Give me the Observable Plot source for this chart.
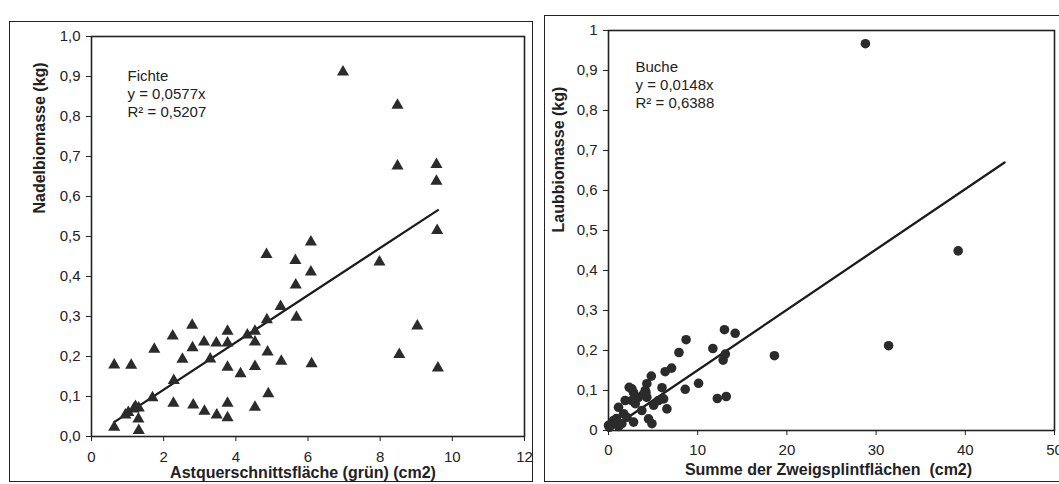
<!DOCTYPE html>
<html>
<head>
<meta charset="utf-8">
<script src="https://cdn.jsdelivr.net/npm/d3@7"></script>
<script src="https://cdn.jsdelivr.net/npm/@observablehq/plot@0.6"></script>
<style>
  html, body { margin: 0; padding: 0; background: #fff; }
  body { width: 1059px; height: 484px; position: relative; overflow: hidden; font-family: "Liberation Sans", Arial, sans-serif; }
  .outer { position: absolute; box-sizing: border-box; border: 1.6px solid #222; }
  .panel { position: absolute; top: 0; }
</style>
</head>
<body>
<div class="outer" style="left:9px; top:21px; width:524px; height:461px;"></div>
<div class="outer" style="left:544px; top:15px; width:530px; height:467px;"></div>
<div id="left" class="panel" style="left:0; width:530px;"></div>
<div id="right" class="panel" style="left:530px; width:529px;"></div>
<script>
// ---- Fichte (left panel) ----
const fichteX = [6.97, 8.48, 8.48, 9.56, 9.56, 9.58, 6.08, 4.85, 5.65, 7.98, 6.08, 5.66, 5.24, 5.68, 4.86, 9.03, 2.79, 3.77, 2.25, 4.32, 4.53, 3.12, 3.46, 3.77, 4.53, 2.80, 1.74, 4.88, 2.52, 3.29, 5.26, 8.53, 6.10, 0.63, 1.10, 3.77, 4.53, 9.60, 4.13, 2.28, 1.69, 4.90, 2.27, 2.82, 3.77, 3.13, 3.47, 3.77, 4.53, 0.94, 1.17, 1.31, 1.30, 1.31, 0.63, 1.22, 1.02];
const fichteY = [0.911, 0.828, 0.676, 0.680, 0.638, 0.515, 0.486, 0.455, 0.440, 0.436, 0.411, 0.379, 0.325, 0.298, 0.292, 0.276, 0.278, 0.263, 0.251, 0.254, 0.263, 0.236, 0.234, 0.234, 0.236, 0.222, 0.218, 0.211, 0.193, 0.194, 0.188, 0.205, 0.182, 0.179, 0.178, 0.173, 0.175, 0.171, 0.157, 0.140, 0.097, 0.107, 0.083, 0.079, 0.083, 0.063, 0.054, 0.047, 0.073, 0.054, 0.069, 0.071, 0.044, 0.015, 0.023, 0.075, 0.060];
const fichteTrendX = [0.63, 9.6];
const fichteTrendY = [0.036, 0.566];
const fichteXTicks = [0, 2, 4, 6, 8, 10, 12];
const fichteYTicks = [0, 0.1, 0.2, 0.3, 0.4, 0.5, 0.6, 0.7, 0.8, 0.9, 1.0];
const fichteYLabels = ["0,0", "0,1", "0,2", "0,3", "0,4", "0,5", "0,6", "0,7", "0,8", "0,9", "1,0"];
const fichteXTitle = "Astquerschnittsfläche (grün) (cm2)";
const fichteYTitle = "Nadelbiomasse (kg)";
const fichteNote = "Fichte\ny = 0,0577x\nR² = 0,5207";

// ---- Buche (right panel) ----
const bucheX = [28.8, 39.2, 31.4, 18.6, 13.0, 14.2, 8.7, 11.7, 7.9, 13.1, 12.85, 7.07, 6.35, 4.8, 10.1, 8.6, 12.2, 13.2,
  2.32, 4.12, 4.3, 6.0, 6.18, 6.55, 5.06, 3.74, 4.49, 4.87, 2.81, 1.87, 1.12, 1.69, 2.62, 0.0, 0.56, 1.12, 2.06, 2.62,
  3.37, 3.0, 0.37, 0.1, 4.3, 5.6, 1.5, 4.2, 2.8, 3.9, 0.9];
const bucheY = [0.967, 0.449, 0.212, 0.187, 0.252, 0.243, 0.227, 0.205, 0.195, 0.191, 0.176, 0.156, 0.147, 0.136, 0.118, 0.103, 0.080, 0.085,
  0.108, 0.100, 0.083, 0.107, 0.079, 0.054, 0.063, 0.050, 0.029, 0.017, 0.021, 0.075, 0.058, 0.042, 0.075, 0.013, 0.025, 0.010, 0.033, 0.104,
  0.083, 0.067, 0.017, 0.008, 0.117, 0.075, 0.017, 0.095, 0.095, 0.090, 0.030];
const bucheTrendX = [0, 44.4];
const bucheTrendY = [0, 0.67];
const bucheXTicks = [0, 10, 20, 30, 40, 50];
const bucheYTicks = [0, 0.1, 0.2, 0.3, 0.4, 0.5, 0.6, 0.7, 0.8, 0.9, 1.0];
const bucheYLabels = ["0", "0,1", "0,2", "0,3", "0,4", "0,5", "0,6", "0,7", "0,8", "0,9", "1"];
const bucheXTitle = "Summe der Zweigsplintflächen  (cm2)";
const bucheYTitle = "Laubbiomasse (kg)";
const bucheNote = "Buche\ny = 0,0148x\nR² = 0,6388";

const INK = "#222";
const FILL = "#2b2b2b";
const FONT = "'Liberation Sans', Arial, Helvetica, sans-serif";

function panel(o) {
  const pts = o.xs.map((x, i) => ({x, y: o.ys[i]}));
  const trend = o.tx.map((x, i) => ({x, y: o.ty[i]}));
  return Plot.plot({
    width: o.width, height: 484,
    marginLeft: o.ml, marginRight: o.mr, marginTop: o.mt, marginBottom: o.mb,
    style: {fontFamily: FONT, fontSize: "15px", color: INK, background: "transparent", overflow: "visible"},
    x: {domain: o.xDomain, ticks: o.xTicks, tickFormat: d => String(d), tickSize: 5, tickPadding: o.xPad, label: null},
    y: {domain: [0, 1], ticks: o.yTicks, tickFormat: d => o.yLabels[o.yTicks.indexOf(d)], tickSize: 5, tickPadding: 6, label: null},
    marks: [
      Plot.frame({stroke: INK, strokeWidth: 1.6}),
      Plot.line(trend, {x: "x", y: "y", stroke: "#1c1c1c", strokeWidth: 2.3}),
      Plot.dot(pts, {x: "x", y: "y", symbol: o.symbol, r: o.r, fill: FILL, stroke: "none"}),
      Plot.text([o.note], {text: d => d, frameAnchor: "top-left", dx: o.ndx, dy: o.ndy, textAnchor: "start", lineAnchor: "top", lineHeight: 1.22, fontSize: 15, fill: INK}),
      Plot.text([o.xTitle], {text: d => d, frameAnchor: "bottom", dx: o.xtdx, dy: o.xtdy, lineAnchor: "middle", fontWeight: "bold", fontSize: 16, fill: INK}),
      Plot.text([o.yTitle], {text: d => d, frameAnchor: "left", rotate: -90, dx: o.ytdx, dy: o.ytdy, lineAnchor: "middle", fontWeight: "bold", fontSize: 16, fill: INK})
    ]
  });
}

document.getElementById("left").append(panel({
  width: 530, ml: 91, mr: 6, mt: 36, mb: 48,
  xs: fichteX, ys: fichteY, tx: fichteTrendX, ty: fichteTrendY,
  xDomain: [0, 12], xTicks: fichteXTicks, yTicks: fichteYTicks, yLabels: fichteYLabels, xPad: 10,
  symbol: "triangle", r: 4.5,
  note: fichteNote, ndx: 36, ndy: 31,
  xTitle: fichteXTitle, xtdx: -5, xtdy: 36,
  yTitle: fichteYTitle, ytdx: -52, ytdy: -23
}));

document.getElementById("right").append(panel({
  width: 529, ml: 78, mr: 5, mt: 30, mb: 54,
  xs: bucheX, ys: bucheY, tx: bucheTrendX, ty: bucheTrendY,
  xDomain: [0, 50], xTicks: bucheXTicks, yTicks: bucheYTicks, yLabels: bucheYLabels, xPad: 9,
  symbol: "circle", r: 4.8,
  note: bucheNote, ndx: 27, ndy: 28,
  xTitle: bucheXTitle, xtdx: -3, xtdy: 39,
  yTitle: bucheYTitle, ytdx: -50, ytdy: 2
}));
</script>
</body>
</html>
